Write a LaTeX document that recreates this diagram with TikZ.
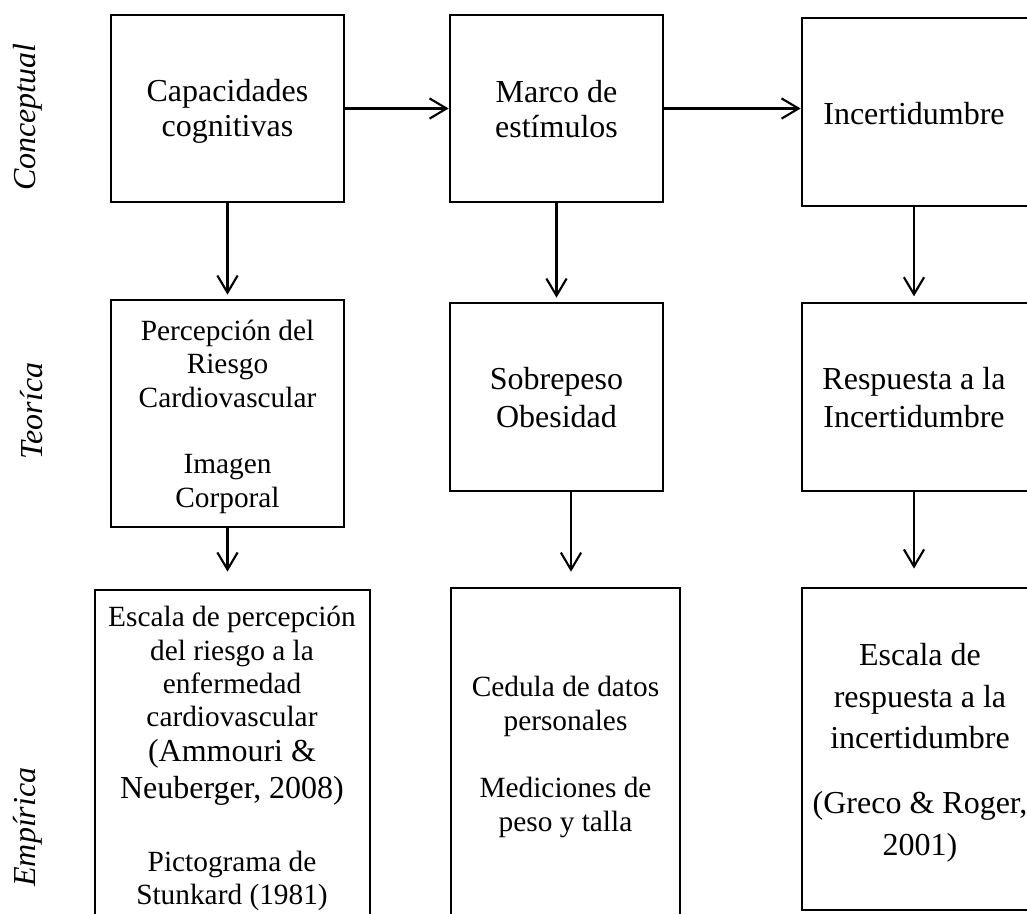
\documentclass[tikz,border=0pt]{standalone}
\usepackage{fontspec}
\setmainfont{Liberation Serif}
\usetikzlibrary{arrows.meta,fit,calc}
\tikzset{
  box/.style={draw, line width=1pt, inner sep=0pt, rectangle},
  arr/.style={line width=0.8pt, -{Straight Barb[length=6.4pt,width=7.6pt,line width=0.8pt]}},
  txt/.style={align=center, inner sep=0pt, anchor=base},
  big/.style={txt, font=\fontsize{12}{13.1}\selectfont},
  small/.style={txt, font=\fontsize{11}{12.5}\selectfont},
  side/.style={inner sep=0pt, rotate=90, font=\fontsize{12}{14}\selectfont\itshape}
}
\begin{document}
\begin{tikzpicture}[x=0.375pt,y=-0.375pt]
\useasboundingbox (0,0) rectangle (1027,913);
\clip (0,0) rectangle (1027,913);

% row labels
\node[side] (lc) at (28,117) {Conceptual};
\node[side] (lt) at (32,411) {Teoríca};
\node[side] (le) at (28,827) {Empírica};

% boxes
\node[box, fit={(111,15) (344,202)}] (b1) {};
\node[box, fit={(450,15) (663,202)}] (b2) {};
\node[box, fit={(802,18) (1034,206)}] (b3) {};
\node[box, fit={(111,300) (344,527)}] (b4) {};
\node[box, fit={(450,303) (663,491)}] (b5) {};
\node[box, fit={(802,303) (1034,491)}] (b6) {};
\node[box, fit={(95,590) (370,940)}] (b7) {};
\node[box, fit={(451,588) (680,940)}] (b8) {};
\node[box, fit={(802,588) (1040,910)}] (b9) {};

% texts (base anchor = baseline of the last line)
\node[big] (t1) at (227.5,136.7) {Capacidades\\cognitivas};
\node[big] (t2) at (556.5,137) {Marco de\\estímulos};
\node[big] (t3) at (914,124) {Incertidumbre};
\node[small] (t4) at (227.5,507) {Percepción del\\Riesgo\\Cardiovascular\\[12.5pt]Imagen\\Corporal};
\node[big, font=\fontsize{12}{13.9}\selectfont] (t5) at (556.5,427) {Sobrepeso\\Obesidad};
\node[big, font=\fontsize{12}{13.9}\selectfont] (t6) at (914,427) {Respuesta a la\\Incertidumbre};
\node[small] (t7a) at (232,726.7) {Escala de percepción\\del riesgo a la\\enfermedad\\cardiovascular};
\node[big, font=\fontsize{12}{13.6}\selectfont] (t7b) at (232,798) {(Ammouri \&\\Neuberger, 2008)};
\node[small, font=\fontsize{11}{12.3}\selectfont] (t7c) at (232,904) {Pictograma de\\Stunkard (1981)};
\node[small, font=\fontsize{11}{12.6}\selectfont] (t8) at (565.5,831) {Cedula de datos\\personales\\[12.6pt]Mediciones de\\peso y talla};
\node[big, font=\fontsize{12}{15.4}\selectfont] (t9) at (920,855) {Escala de\\respuesta a la\\incertidumbre\\[9.3pt](Greco \& Roger,\\2001)};

% connectors
\draw[arr] (b1.east) -- (b2.west);
\draw[arr] (b2.east) -- (b2.east -| b3.west);
\draw[arr, shorten >=1.5pt] (b1.south) -- (b1.south |- b4.north);
\draw[arr, shorten >=1.5pt] (b2.south) -- (b2.south |- b5.north);
\draw[arr, shorten >=2pt] ($(b3.south)+(-4,0)$) -- ($(b3.south |- b6.north)+(-4,0)$);
\draw[arr, shorten >=6.4pt] (b4.south) -- (b4.south |- b7.north);
\draw[arr, shorten >=5.6pt] ($(b5.south)+(14.5,0)$) -- ($(b5.south |- b8.north)+(14.5,0)$);
\draw[arr, shorten >=6.8pt] ($(b6.south)+(-4,0)$) -- ($(b6.south |- b9.north)+(-4,0)$);
\end{tikzpicture}
\end{document}
